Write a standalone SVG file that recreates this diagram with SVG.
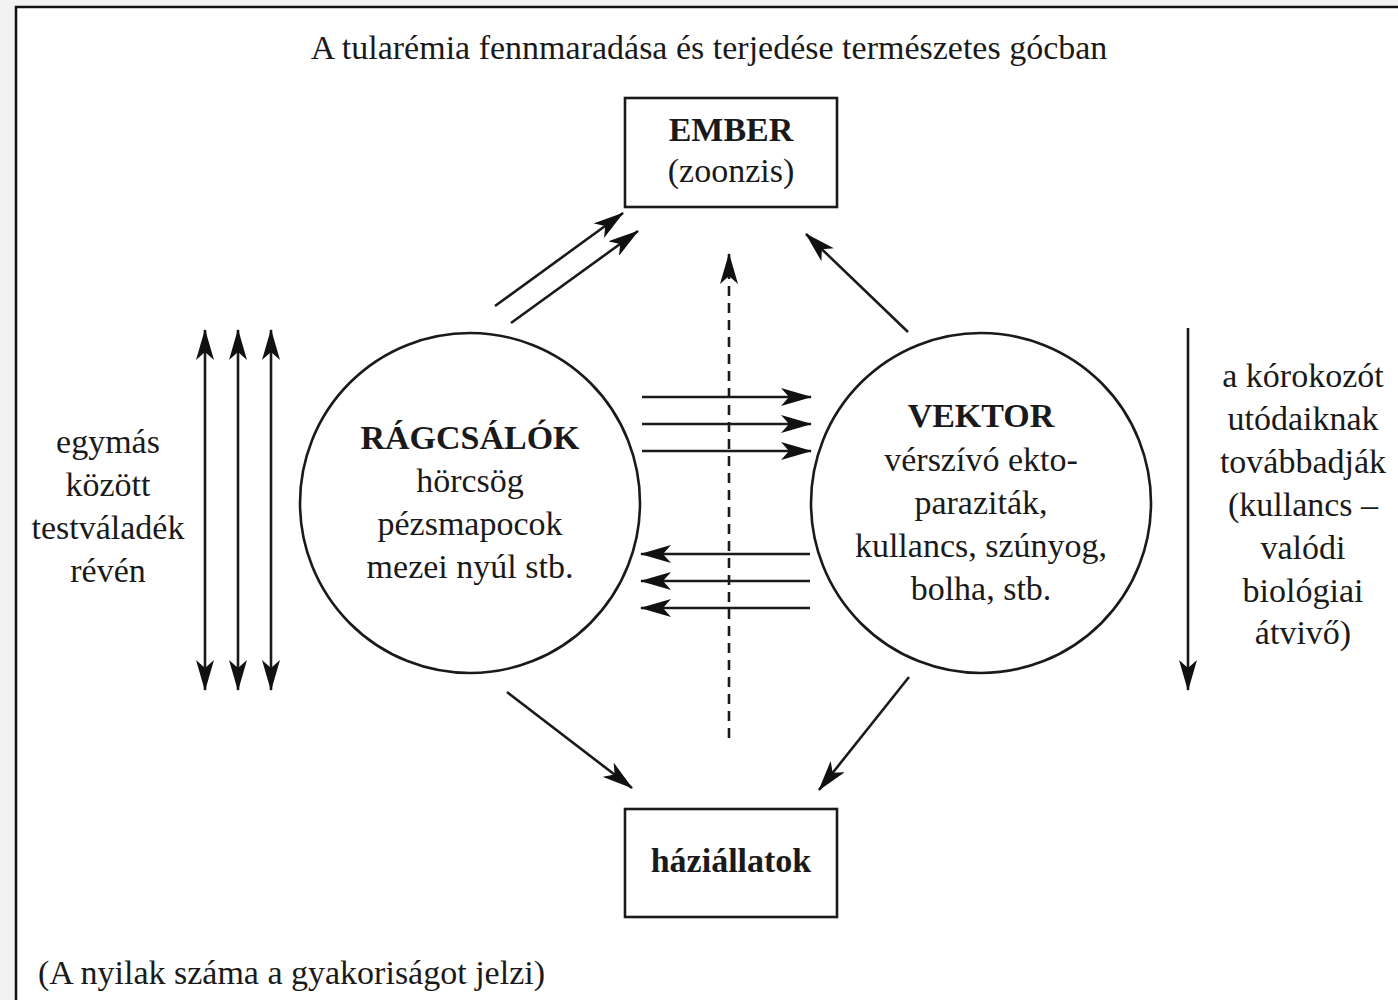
<svg xmlns="http://www.w3.org/2000/svg" width="1398" height="1000" viewBox="0 0 1398 1000">
<style>
text{font-family:"Liberation Serif","Times New Roman",serif;font-size:34px;fill:#1a1a1a}
.b{font-weight:bold}
.c{text-anchor:middle}
.ln{stroke:#1a1a1a;stroke-width:2.6;fill:none}
.box{stroke:#1a1a1a;stroke-width:2.6;fill:#fff}
</style>
<defs>
<marker id="ah" viewBox="0 0 31 18" refX="30" refY="9" markerWidth="31" markerHeight="18" markerUnits="userSpaceOnUse" orient="auto-start-reverse">
<path d="M0,0 L31,9 L0,18 L8,9 Z" fill="#111"/>
</marker>
</defs>
<rect x="0" y="0" width="1398" height="1000" fill="#f2f2f2"/>
<rect x="16" y="7" width="1400" height="1010" fill="#fff" stroke="#111" stroke-width="2.5"/>

<g id="ember">
<rect class="box" x="625" y="98" width="212" height="109"/>
<text class="c b" x="731" y="141">EMBER</text>
<text class="c" x="731" y="182">(zoonzis)</text>
</g>
<g id="haziallatok">
<rect class="box" x="625" y="809" width="212" height="108"/>
<text class="c b" x="731" y="872">háziállatok</text>
</g>
<g id="ragcsalok">
<circle class="ln" cx="470" cy="503" r="170"/>
<text class="c b" x="470" y="449">RÁGCSÁLÓK</text>
<text class="c" x="470" y="492">hörcsög</text>
<text class="c" x="470" y="535">pézsmapocok</text>
<text class="c" x="470" y="578">mezei nyúl stb.</text>
</g>
<g id="vektor">
<circle class="ln" cx="981" cy="503" r="170"/>
<text class="c b" x="981" y="427">VEKTOR</text>
<text class="c" x="981" y="471">vérszívó ekto-</text>
<text class="c" x="981" y="514">paraziták,</text>
<text class="c" x="981" y="557">kullancs, szúnyog,</text>
<text class="c" x="981" y="600">bolha, stb.</text>
</g>
<g id="labels">
<text class="c" x="709" y="59">A tularémia fennmaradása és terjedése természetes gócban</text>
<text class="c" x="108" y="453">egymás</text>
<text class="c" x="108" y="496">között</text>
<text class="c" x="108" y="539">testváladék</text>
<text class="c" x="108" y="582">révén</text>
<text class="c" x="1303" y="387">a kórokozót</text>
<text class="c" x="1303" y="430">utódaiknak</text>
<text class="c" x="1303" y="473">továbbadják</text>
<text class="c" x="1303" y="516">(kullancs –</text>
<text class="c" x="1303" y="559">valódi</text>
<text class="c" x="1303" y="602">biológiai</text>
<text class="c" x="1303" y="644">átvivő)</text>
<text x="38" y="984">(A nyilak száma a gyakoriságot jelzi)</text>
</g>

<g id="connectors">
<line class="ln" x1="205" y1="330" x2="205" y2="690" marker-start="url(#ah)" marker-end="url(#ah)"/>
<line class="ln" x1="238" y1="330" x2="238" y2="690" marker-start="url(#ah)" marker-end="url(#ah)"/>
<line class="ln" x1="271" y1="330" x2="271" y2="690" marker-start="url(#ah)" marker-end="url(#ah)"/>
<line class="ln" x1="1188" y1="328" x2="1188" y2="690" marker-end="url(#ah)"/>
<line class="ln" x1="642" y1="397" x2="811" y2="397" marker-end="url(#ah)"/>
<line class="ln" x1="642" y1="424" x2="811" y2="424" marker-end="url(#ah)"/>
<line class="ln" x1="642" y1="451" x2="811" y2="451" marker-end="url(#ah)"/>
<line class="ln" x1="810" y1="554" x2="641" y2="554" marker-end="url(#ah)"/>
<line class="ln" x1="810" y1="581" x2="641" y2="581" marker-end="url(#ah)"/>
<line class="ln" x1="810" y1="608" x2="641" y2="608" marker-end="url(#ah)"/>
<line class="ln" x1="729" y1="738" x2="729" y2="254" stroke-dasharray="10,7" marker-end="url(#ah)"/>
<line class="ln" x1="495" y1="306" x2="623" y2="213" marker-end="url(#ah)"/>
<line class="ln" x1="511" y1="323" x2="638" y2="231" marker-end="url(#ah)"/>
<line class="ln" x1="908" y1="332" x2="806" y2="234" marker-end="url(#ah)"/>
<line class="ln" x1="507" y1="692" x2="632" y2="788" marker-end="url(#ah)"/>
<line class="ln" x1="909" y1="677" x2="819" y2="790" marker-end="url(#ah)"/>
</g>
</svg>
